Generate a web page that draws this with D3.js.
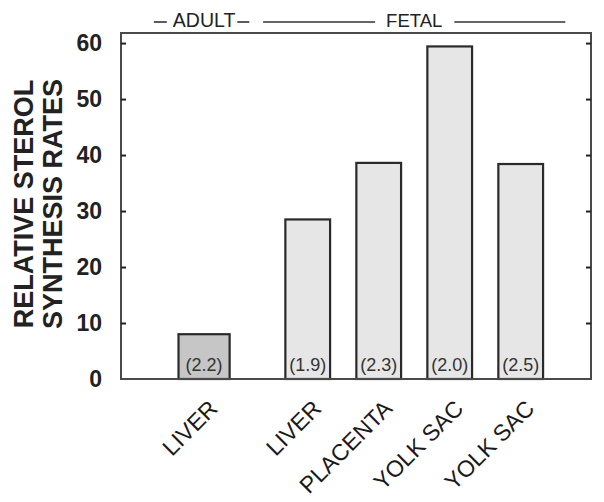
<!DOCTYPE html>
<html>
<head>
<meta charset="utf-8">
<script src="https://cdn.jsdelivr.net/npm/d3@7"></script>
<style>
  html, body { margin: 0; padding: 0; background: #fff; }
  svg { display: block; font-family: "Liberation Sans", Arial, sans-serif; }
</style>
</head>
<body>
<svg id="chart" width="604" height="502"></svg>
<script>
// ---- data ----
const categories = ["LIVER", "LIVER", "PLACENTA", "YOLK SAC", "YOLK SAC"];
const groups = ["ADULT", "FETAL", "FETAL", "FETAL", "FETAL"];
const values = [8.0, 28.5, 38.6, 59.4, 38.4];
const barNotes = ["(2.2)", "(1.9)", "(2.3)", "(2.0)", "(2.5)"];
const groupNames = ["ADULT", "FETAL"];
const yTicks = [0, 10, 20, 30, 40, 50, 60];
const yTitle = ["RELATIVE STEROL", "SYNTHESIS RATES"];

// ---- layout ----
const svg = d3.select("#chart");
const L = 121, R = 591, T = 33, B = 379;
const groupGap = 0.46;
const pos = (i) => i + (groups[i] === "FETAL" ? groupGap : 0);
const x = d3.scaleLinear().domain([-1.17, 5.45]).range([L, R]);
const y = d3.scaleLinear().domain([0, 61.8]).range([B, T]);
const slot = x(1) - x(0);
const barW = (i) => groups[i] === "ADULT" ? slot * 0.72 : slot * 0.63;

const data = categories.map((c, i) => ({ c, g: groups[i], v: values[i], note: barNotes[i], i }));

// bars
svg.append("g").selectAll("rect").data(data).join("rect")
  .attr("x", d => x(pos(d.i)) - barW(d.i) / 2)
  .attr("y", d => y(d.v))
  .attr("width", d => barW(d.i))
  .attr("height", d => y(0) - y(d.v))
  .attr("fill", d => d.g === "ADULT" ? "#c6c6c6" : "#e6e6e6")
  .attr("stroke", "#2a2a2a")
  .attr("stroke-width", 2.2);

// bar notes
svg.append("g").selectAll("text").data(data).join("text")
  .attr("x", d => x(pos(d.i)))
  .attr("y", B - 8)
  .attr("text-anchor", "middle")
  .attr("font-size", 18)
  .attr("fill", "#333")
  .text(d => d.note);

// frame
svg.append("rect")
  .attr("x", L).attr("y", T).attr("width", R - L).attr("height", B - T)
  .attr("fill", "none").attr("stroke", "#4a4a4a").attr("stroke-width", 2);

// left axis
const yAxisL = d3.axisLeft(y).tickValues(yTicks).tickSize(-5).tickPadding(19).tickFormat(d3.format("d"));
const gL = svg.append("g").attr("transform", `translate(${L},0)`).call(yAxisL);
gL.select(".domain").remove();
gL.selectAll(".tick line").attr("stroke", "#222").attr("stroke-width", 2);
gL.selectAll(".tick text").attr("font-size", 23).attr("font-weight", "bold")
  .attr("fill", "#222").attr("font-family", "Liberation Sans, Arial, sans-serif");
gL.selectAll(".tick").filter(d => d === 0).select("line").remove();

// right axis ticks
const yAxisR = d3.axisRight(y).tickValues(yTicks.filter(d => d > 0)).tickSize(-5).tickFormat("");
const gR = svg.append("g").attr("transform", `translate(${R},0)`).call(yAxisR);
gR.select(".domain").remove();
gR.selectAll(".tick line").attr("stroke", "#222").attr("stroke-width", 2);

// x labels
svg.append("g").selectAll("text").data(data).join("text")
  .attr("transform", d => `translate(${x(pos(d.i)) + 15},${B + 31}) rotate(-45)`)
  .attr("text-anchor", "end")
  .attr("font-size", 23)
  .attr("fill", "#1a1a1a")
  .text(d => d.c);

// y title
const yt = svg.append("text")
  .attr("transform", `translate(0,${(T + B) / 2 - 2}) rotate(-90)`)
  .attr("text-anchor", "middle")
  .attr("font-size", 27)
  .attr("font-weight", "bold")
  .attr("fill", "#222");
yt.selectAll("tspan").data(yTitle).join("tspan")
  .attr("x", 0)
  .attr("y", (d, i) => 33 + i * 29)
  .text(d => d);

// group headers
const headY = 26.5;
const lineY = 22;
groupNames.forEach(gname => {
  const idx = d3.range(categories.length).filter(i => groups[i] === gname);
  const lo = d3.min(idx, i => x(pos(i)) - barW(i) / 2);
  const hi = d3.max(idx, i => x(pos(i)) + barW(i) / 2);
  const cx = (lo + hi) / 2;
  const t = svg.append("text")
    .attr("x", cx).attr("y", headY)
    .attr("text-anchor", "middle")
    .attr("font-size", gname === "ADULT" ? 19.5 : 18.5)
    .attr("fill", "#222")
    .text(gname);
  const w = t.node().getComputedTextLength();
  let segs;
  if (gname === "ADULT") {
    segs = [[cx - w / 2 - 19, cx - w / 2 - 6], [cx + w / 2 + 2, cx + w / 2 + 14]];
  } else {
    segs = [[cx - w / 2 - 123, cx - w / 2 - 11], [cx + w / 2 + 12, cx + w / 2 + 123]];
  }
  svg.append("g").selectAll("line").data(segs).join("line")
    .attr("x1", s => s[0]).attr("x2", s => s[1])
    .attr("y1", lineY).attr("y2", lineY)
    .attr("stroke", "#333").attr("stroke-width", 1.6);
});
</script>
</body>
</html>
